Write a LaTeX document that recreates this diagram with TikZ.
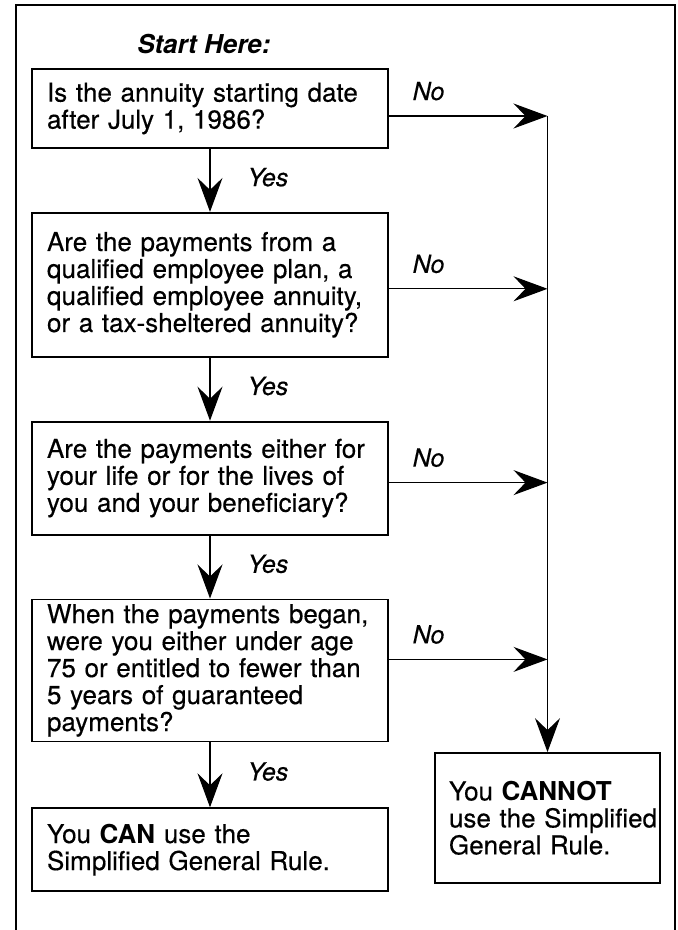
\documentclass[tikz,border=0pt]{standalone}
\usepackage{fontspec}
\setmainfont{TeX Gyre Heros}[UprightFeatures={FakeBold=0.35},ItalicFeatures={FakeBold=0.35}]
\usetikzlibrary{arrows.meta,positioning}

\begin{document}
\begin{tikzpicture}[x=1pt,y=-1pt,->,>={Stealth[length=34pt,width=25pt,inset=12pt]},
                line width=1.2pt,node distance=63pt,
                every node/.style={font=\fontsize{26}{27}\selectfont},
                qbox/.style={draw,line width=1.8pt,text width=326pt,inner xsep=15pt,
                  inner ysep=0pt,align=left},
                ans/.style={font=\fontsize{25}{27}\selectfont\itshape,inner sep=0pt},
                yes/.style={ans,right=37pt,pos=0.45},
                no/.style={ans,above=15pt,pos=0.25}]
            \useasboundingbox (0,0) rectangle (678,930);
            \draw[-,line width=1.6pt] (16,930) |- (675,5) -- (675,930);
            \node [qbox,minimum height=79pt]  (q1) at (210,108.5) {Is the annuity starting date\\after July 1, 1986?};
            \node [qbox,minimum height=144pt] (q2) [below=of q1] {Are the payments from a\\qualified employee plan, a\\qualified employee annuity,\\or a tax-sheltered annuity?};
            \node [qbox,minimum height=113pt] (q3) [below=of q2] {Are the payments either for\\your life or for the lives of\\you and your beneficiary?};
            \node [qbox,minimum height=142pt] (q4) [below=of q3] {When the payments began,\\were you either under age\\75 or entitled to fewer than\\5 years of guaranteed\\payments?};
            \node [qbox,minimum height=83pt]  (can) [below=65pt of q4] {You \textbf{CAN} use the\\Simplified General Rule.};
            \node [qbox,minimum height=130pt,text width=197pt,inner xsep=14pt] (cannot) at (547.5,818) {You \textbf{CANNOT}\\\mbox{use the Simplified}\\General Rule.};
            \node [inner sep=0pt,font=\fontsize{26}{27}\selectfont\bfseries\itshape,
                   above=14pt of q1,xshift=-6pt] (start) {Start Here:};
            % exits to the right
            \coordinate [yshift=-7.5pt] (e1) at (q1.east);
            \coordinate [yshift=-4pt]   (e2) at (q2.east);
            \coordinate [yshift=-4.5pt] (e3) at (q3.east);
            \coordinate [yshift=11pt]   (e4) at (q4.east);
            \draw[-] (e1 -| cannot) -- (e4 -| cannot);
            \path   (q1) edge node[yes] {Yes} (q2)
                    (q2) edge node[yes] {Yes} (q3)
                    (q3) edge node[yes] {Yes} (q4)
                    (q4) edge node[yes] {Yes} (can)
                    (e1) edge node[no] {No} (e1 -| cannot)
                    (e2) edge node[no] {No} (e2 -| cannot)
                    (e3) edge node[no] {No} (e3 -| cannot)
                    (e4) edge node[no] {No} (e4 -| cannot)
                    (e4 -| cannot) edge (cannot);
        \end{tikzpicture}
\end{document}
